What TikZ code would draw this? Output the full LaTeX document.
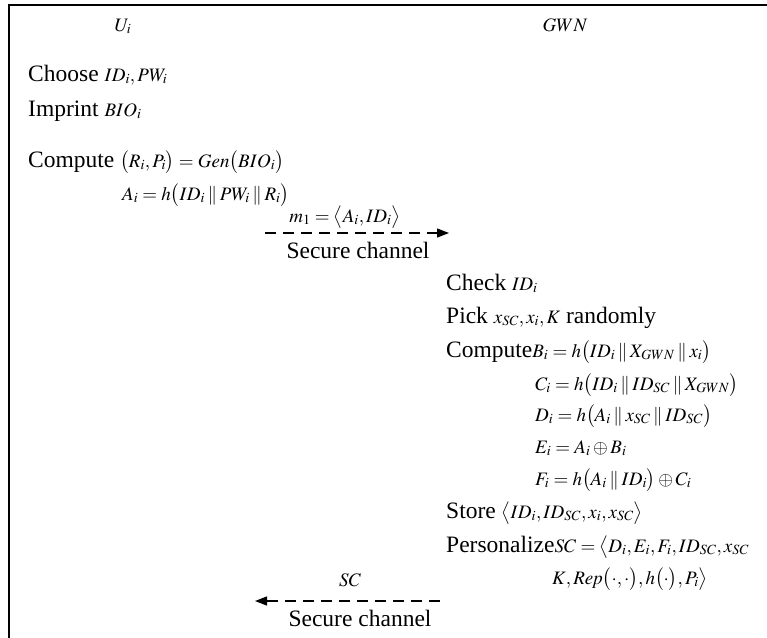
\documentclass[tikz,border=0pt]{standalone}
\usepackage{mathptmx}
\usepackage{fontspec}
\setmainfont{Liberation Serif}
\usetikzlibrary{arrows.meta}
\newcommand\mth[1]{{\fontsize{19}{21}\selectfont$#1$}}
\newcommand\cc{\mathbin{\|}}
\newcommand\po{\bigl(}
\newcommand\pc{\bigr)}
\begin{document}
\begin{tikzpicture}[x=1pt,y=-1pt,
  txt/.style={anchor=base west,inner sep=0pt,font=\fontsize{23.5}{27}\selectfont},
  ctr/.style={anchor=base,inner sep=0pt,font=\fontsize{23.5}{27}\selectfont},
  chan/.style={line width=1.3pt,dash pattern=on 11pt off 7pt,-{Triangle[length=12pt,width=9pt]}}]
\useasboundingbox (0,0) rectangle (767,637);
\draw[line width=1.6pt] (9,640) -- (9,5) -- (770,5);
% headers
\node[ctr] (ui) at (123,31) {\mth{U_i}};
\node[ctr] (gwn) at (565,31) {\mth{GWN}};
% user side
\node[txt] (choose) at (28,81) {Choose \mth{ID_i,PW_i}};
\node[txt] (imprint) at (28,116) {Imprint \mth{BIO_i}};
\node[txt] (comp1) at (28,167) {Compute \mth{\po R_i,P_i\pc=\mathit{Gen}\po BIO_i\pc}};
\node[txt] (ai) at (122,200) {\mth{A_i=h\po ID_i\cc PW_i\cc R_i\pc}};
% first message
\coordinate (m1s) at (265,233);
\coordinate (m1e) at (449,233);
\draw[chan] (m1s) -- (m1e);
\node[ctr] (m1) at (345,222) {\mth{m_1=\big\langle A_i,ID_i\big\rangle}};
\node[ctr] (sc1) at (358,258) {Secure channel};
% GWN side
\node[txt] (check) at (446,290) {Check \mth{ID_i}};
\node[txt] (pick) at (446,323) {Pick \mth{x_{SC},x_i,K} randomly};
\node[txt] (comp2) at (446,357) {Compute\mth{B_i=h\po ID_i\cc X_{GWN}\cc x_i\pc}};
\node[txt] (ci) at (535,390) {\mth{C_i=h\po ID_i\cc ID_{SC}\cc X_{GWN}\pc}};
\node[txt] (di) at (535,421) {\mth{D_i=h\po A_i\cc x_{SC}\cc ID_{SC}\pc}};
\node[txt] (ei) at (535,453) {\mth{E_i=A_i\oplus B_i}};
\node[txt] (fi) at (535,485) {\mth{F_i=h\po A_i\cc ID_i\pc\oplus C_i}};
\node[txt] (store) at (446,518) {Store \mth{\big\langle ID_i,ID_{SC},x_i,x_{SC}\big\rangle}};
\node[txt] (pers) at (446,552) {Personalize\mth{SC=\big\langle D_i,E_i,F_i,ID_{SC},x_{SC}}};
\node[txt] (pers2) at (552,584) {\mth{K,\mathit{Rep}\po\cdot,\cdot\pc,h\po\cdot\pc,P_i\big\rangle}};
% second message
\coordinate (m2s) at (440,601);
\coordinate (m2e) at (255,601);
\draw[chan] (m2s) -- (m2e);
\node[ctr] (sclab) at (350,586) {\mth{SC}};
\node[ctr] (sc2) at (360,626) {Secure channel};
\end{tikzpicture}
\end{document}
